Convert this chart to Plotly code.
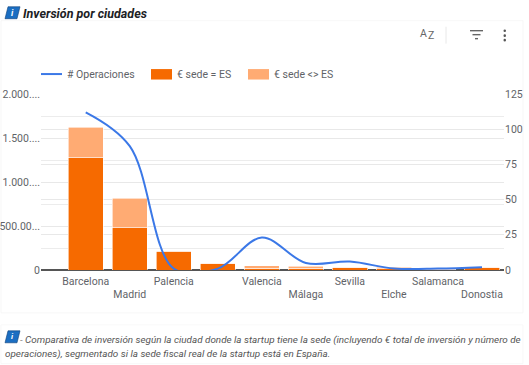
import plotly.graph_objects as go

cities = ["Barcelona", "Madrid", "Palencia", "", "Valencia", "Málaga", "Sevilla", "Elche", "Salamanca", "Donostia"]
eur_es = [1276000, 479000, 215000, 72000, 20000, 20000, 28000, 15000, 5000, 24000]
eur_no_es = [347000, 336000, 6000, 7000, 29000, 25000, 6000, 15000, 17000, 6000]
operaciones = [112, 88, 1, 1, 23, 5, 6, 1, 1, 2]
left_ticks = [0, 500000, 1000000, 1500000, 2000000]
left_labels = ["0", "500.00...", "1.000....", "1.500....", "2.000...."]
left_minor = [250000, 750000, 1250000, 1750000]
right_ticks = [0, 25, 50, 75, 100, 125]
series_names = ["# Operaciones", "€ sede = ES", "€ sede <> ES"]

x = list(range(len(cities)))
ticktext = [("<br>" + c if i % 2 else c) for i, c in enumerate(cities)]

GREY = "#5f6368"
GRID = "#e8e8e8"
FONT = "Roboto"
TICK = 10.5
BLUE, ORANGE, LIGHT = "#3b78e7", "#f66a00", "#ffab73"

fig = go.Figure()
fig.add_trace(go.Bar(x=x, y=eur_es, name=series_names[1], marker=dict(color=ORANGE, line=dict(color="white", width=0.6))))
fig.add_trace(go.Bar(x=x, y=eur_no_es, name=series_names[2], marker=dict(color=LIGHT, line=dict(color="white", width=0.6))))
fig.add_trace(go.Scatter(x=x, y=operaciones, name=series_names[0], yaxis="y2", mode="lines",
                         line=dict(color=BLUE, width=2, shape="spline", smoothing=1.0)))

W, H = 529, 365
L, R, T, B = 41, 25, 93.5, 95
PW, PH = W - L - R, H - T - B

def xp(v):
    return (v - L) / PW

def yp(v):
    return (H - B - v) / PH

def rect(x0, y0, x1, y1, fill, line=None):
    return dict(type="rect", xref="paper", yref="paper", x0=xp(x0), x1=xp(x1), y0=yp(y0), y1=yp(y1),
                fillcolor=fill, line=dict(width=0 if line is None else 0.7, color=line or fill), layer="below")

def hline(x0, x1, y, color, width):
    return dict(type="line", xref="paper", yref="paper", x0=xp(x0), x1=xp(x1), y0=yp(y), y1=yp(y), line=dict(color=color, width=width))

shapes = [
    rect(1, 20, 523, 313, "white", "#f3f3f3"),
    rect(1, 325, 523, 364, "white", "#f5f5f5"),
    dict(type="line", xref="paper", yref="paper", x0=xp(446), x1=xp(446), y0=yp(26), y1=yp(43), line=dict(color="#e8e8e8", width=1)),
    hline(470, 483, 30, "#666", 1.4),
    hline(472.5, 480.5, 34, "#666", 1.4),
    hline(475, 478, 38, "#666", 1.4),
    hline(41, 62, 73.5, BLUE, 2),
    rect(151, 68.5, 172, 79, ORANGE),
    rect(248, 68.5, 269, 79, LIGHT),
]
for cy in (30, 35, 39.5):
    shapes.append(dict(type="circle", xref="paper", yref="paper", x0=xp(503.5), x1=xp(506), y0=yp(cy - 1.3), y1=yp(cy + 1.3),
                       fillcolor="#555", line=dict(width=0)))
for (a, b, c, d) in [(5, 18, 19, 6), (5, 343, 19, 331)]:
    shapes.append(dict(type="path", xref="paper", yref="paper",
                       path=f"M{xp(a)},{yp(b)} L{xp(a+3)},{yp(d)} L{xp(c+1)},{yp(d)} L{xp(c-2)},{yp(b)} Z",
                       fillcolor="#1b6ec2", line=dict(color="#0d3f78", width=0.6)))

def note(text, x0, y0, size, color="#333", bold=False, italic=False, xanchor="left"):
    t = text
    if bold:
        t = f"<b>{t}</b>"
    if italic:
        t = f"<i>{t}</i>"
    return dict(text=t, xref="paper", yref="paper", x=xp(x0), y=yp(y0), xanchor=xanchor, yanchor="middle",
                showarrow=False, align="left", font=dict(family=FONT, size=size, color=color))

annotations = [
    note("i", 12.5, 12, 9, "white", True, True, "center"),
    note("Inversión por ciudades", 21, 12.5, 12.5, "#202124", True, True),
    note("A", 423, 33, 10.5, "#666", xanchor="center"),
    note("Z", 430.5, 35, 10.5, "#666", xanchor="center"),
    note("i", 12.5, 337, 8, "white", True, True, "center"),
    note("- Comparativa de inversión según la ciudad donde la startup tiene la sede (incluyendo € total de inversión y número de", 18, 340, 9.9, "#555", italic=True),
    note("operaciones), segmentado si la sede fiscal real de la startup está en España.", 3, 354, 9.9, "#555", italic=True),
    note(series_names[0], 65, 73.5, TICK, GREY),
    note(series_names[1], 175, 73.5, TICK, GREY),
    note(series_names[2], 272, 73.5, TICK, GREY),
]

fig.update_layout(
    width=W, height=H, autosize=False,
    margin=dict(l=L, r=R, t=T, b=B, pad=0),
    paper_bgcolor="white", plot_bgcolor="rgba(0,0,0,0)",
    barmode="stack", bargap=0.2, showlegend=False,
    font=dict(family=FONT, size=TICK, color=GREY),
    xaxis=dict(range=[-1.016, 9.5], tickmode="array", tickvals=x, ticktext=ticktext, showgrid=False, automargin=False,
               ticks="", showline=False, zeroline=False, tickangle=0, ticklabelstandoff=3,
               tickfont=dict(family=FONT, size=TICK, color=GREY)),
    yaxis=dict(range=[0, 2000000], tickmode="array", tickvals=left_ticks, ticktext=left_labels, automargin=False,
               showgrid=True, gridcolor=GRID, gridwidth=1, zeroline=True, zerolinecolor="#555", zerolinewidth=1.5,
               ticks="", tickfont=dict(family=FONT, size=TICK, color=GREY),
               minor=dict(tickmode="array", tickvals=left_minor, showgrid=True, gridcolor="#ececec", gridwidth=1, ticks="")),
    yaxis2=dict(range=[0, 125], overlaying="y", side="right", tickmode="array", tickvals=right_ticks, automargin=False,
                showgrid=True, gridcolor=GRID, gridwidth=1, zeroline=False, ticks="",
                tickfont=dict(family=FONT, size=TICK, color=GREY)),
    shapes=shapes,
    annotations=annotations,
)

fig.write_html("out.html", config=dict(displayModeBar=False),
               post_script="document.body.style.margin='0';document.body.style.overflow='hidden';")
